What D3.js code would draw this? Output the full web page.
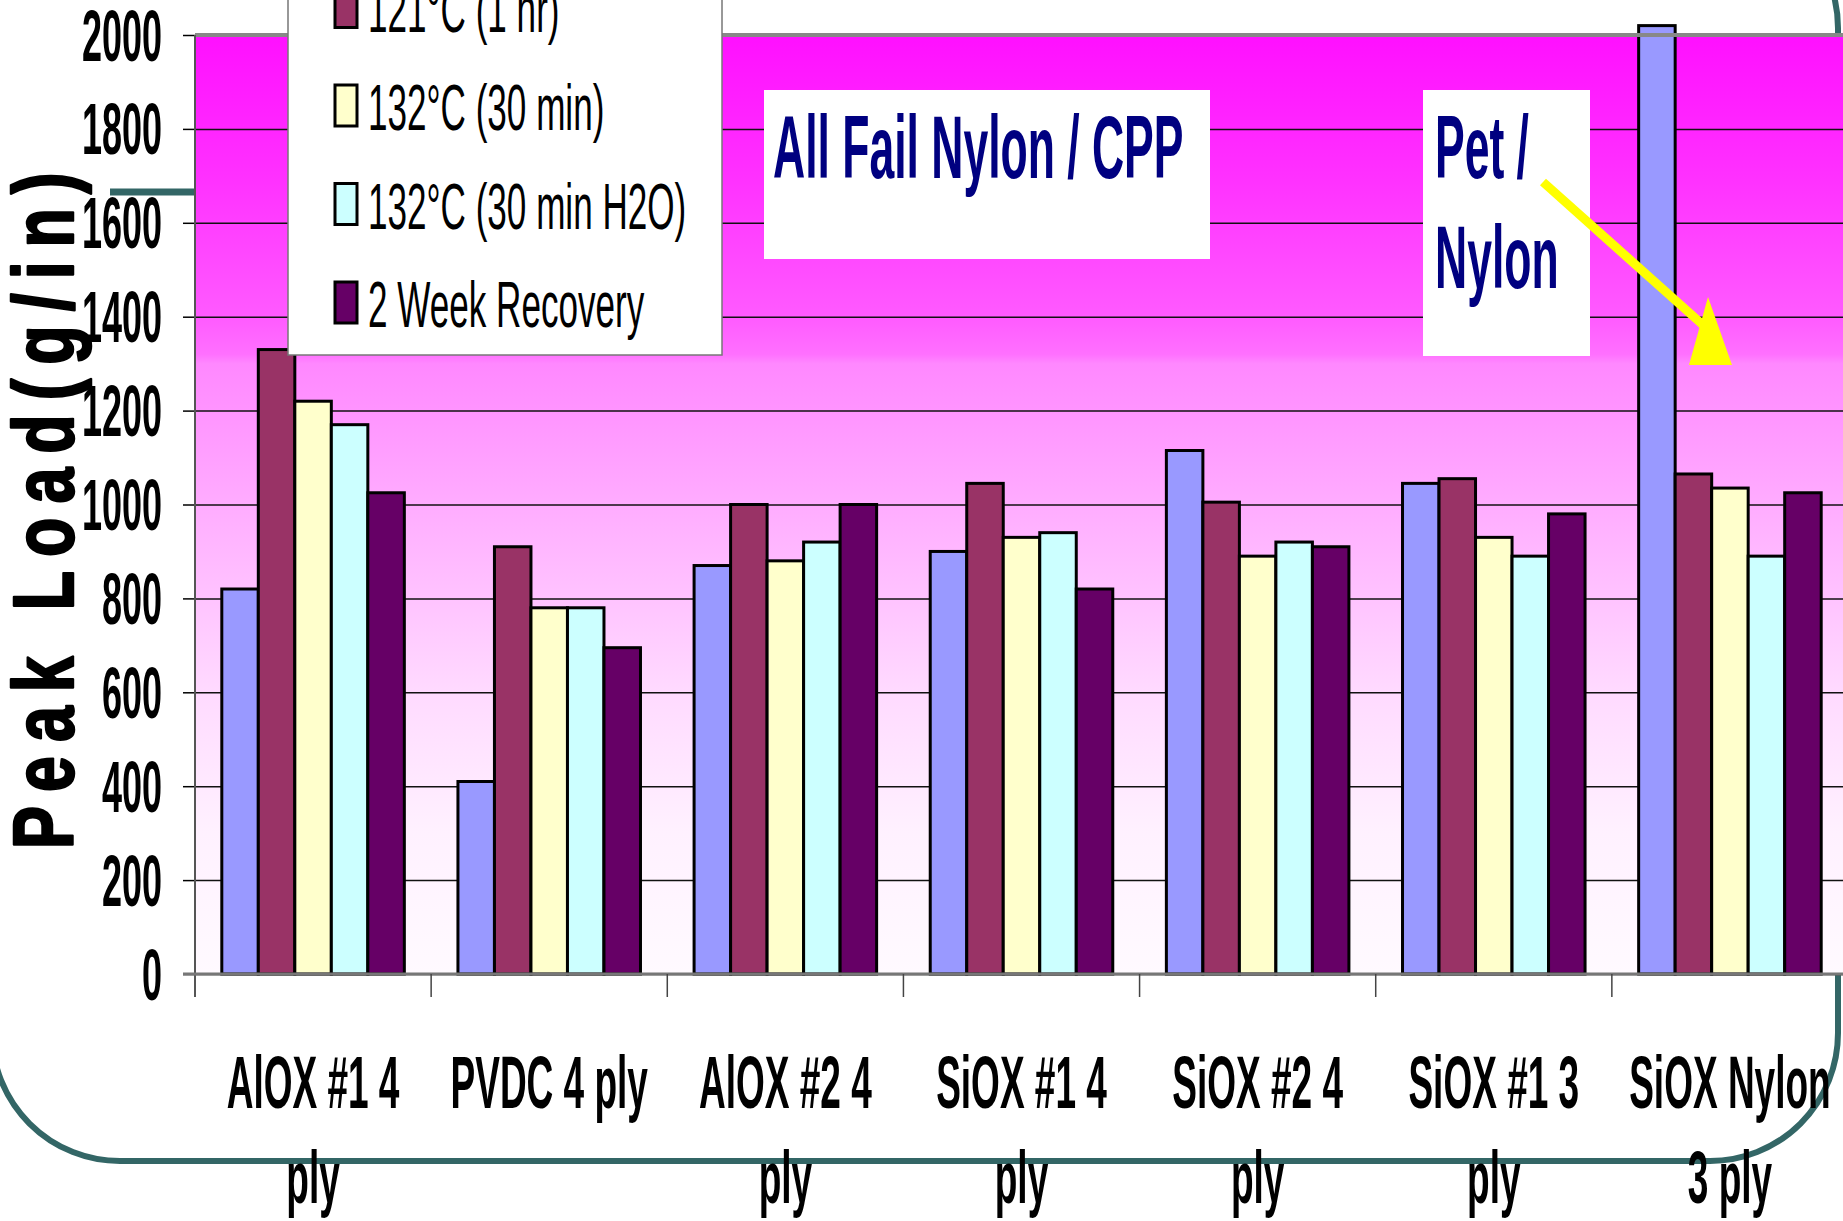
<!DOCTYPE html>
<html>
<head>
<meta charset="utf-8">
<script src="https://cdn.jsdelivr.net/npm/d3@7"></script>
<style>
  html, body { margin: 0; padding: 0; background: #ffffff; }
  svg { display: block; }
  text { font-family: "Liberation Sans", Arial, sans-serif; }
</style>
</head>
<body>
<script>
// Peak load by structure and retort condition
const categories = ["AlOX #1 4 ply", "PVDC 4 ply", "AlOX #2 4 ply", "SiOX #1 4 ply", "SiOX #2 4 ply", "SiOX #1 3 ply", "SiOX Nylon 3 ply"];
const seriesNames = ["Initial", "121°C (1 hr)", "132°C (30 min)", "132°C (30 min H2O)", "2 Week Recovery"];
const initialValues   = [820, 410, 870, 900, 1115, 1045, 2020];
const retort121Values = [1330, 910, 1000, 1045, 1005, 1055, 1065];
const retort132Values = [1220, 780, 880, 930, 890, 930, 1035];
const retort132WaterValues = [1170, 780, 920, 940, 920, 890, 890];
const recoveryValues  = [1025, 695, 1000, 820, 910, 980, 1025];
const seriesColors = ["#9999FF", "#993366", "#FFFFCC", "#CCFFFF", "#660066"];
const yTicks = [0, 200, 400, 600, 800, 1000, 1200, 1400, 1600, 1800, 2000];
const yTitle = "Peak Load(g/in)";
const noteLeft = "All Fail Nylon / CPP";
const noteRight = ["Pet /", "Nylon"];

const seriesValues = [initialValues, retort121Values, retort132Values, retort132WaterValues, recoveryValues];
const rows = [];
categories.forEach((c, i) => seriesNames.forEach((s, j) => rows.push({ cat: c, series: s, value: seriesValues[j][i], color: seriesColors[j] })));

const W = 1843, H = 1221;
const plot = { left: 195, right: 1848, top: 35, bottom: 974 };
const SX = 0.5; // horizontal squeeze for the condensed lettering

const svg = d3.select("body").append("svg").attr("width", W).attr("height", H);
const defs = svg.append("defs");

// slide frame
svg.append("rect").attr("x", -8).attr("y", -100).attr("width", 1846).attr("height", 1261)
  .attr("rx", 128).attr("ry", 128).attr("fill", "none").attr("stroke", "#336666").attr("stroke-width", 6);
svg.append("line").attr("x1", 110).attr("x2", 200).attr("y1", 192).attr("y2", 192)
  .attr("stroke", "#336666").attr("stroke-width", 7);

const x0 = d3.scaleBand().domain(categories).range([plot.left, plot.right]).paddingInner(0).paddingOuter(0);
const gap = x0.bandwidth() * 0.1135;
const x1 = d3.scaleBand().domain(seriesNames).range([gap, x0.bandwidth() - gap]).padding(0);
const y = d3.scaleLinear().domain([0, 2000]).range([plot.bottom, plot.top]);

// plot background gradient
const grad = defs.append("linearGradient").attr("id", "bg").attr("x1", 0).attr("y1", 0).attr("x2", 0).attr("y2", 1);
[[0, "#FF10FF"], [0.15, "#FF30FF"], [0.3, "#FF5AFF"], [0.34, "#FF70FF"], [0.35, "#FF88FF"],
 [0.5, "#FFACFF"], [0.7, "#FFDAFF"], [0.85, "#FFF1FF"], [1, "#FFFAFF"]]
  .forEach(([o, c]) => grad.append("stop").attr("offset", o).attr("stop-color", c));
svg.append("rect").attr("x", plot.left).attr("y", plot.top)
  .attr("width", plot.right - plot.left).attr("height", plot.bottom - plot.top).attr("fill", "url(#bg)");

// gridlines + y axis
const yAxis = d3.axisLeft(y).tickValues(yTicks).tickSize(12).tickFormat(d3.format("d"));
const yg = svg.append("g").attr("transform", `translate(${plot.left},0)`).call(yAxis);
yg.select(".domain").remove();
yg.selectAll(".tick line").attr("stroke", "#000").attr("stroke-width", 1.5);
yg.selectAll(".tick").append("line").attr("class", "grid")
  .attr("x1", 0).attr("x2", plot.right - plot.left).attr("stroke", "#111").attr("stroke-width", 1.5);
yg.selectAll(".tick text")
  .attr("x", null).attr("dy", null)
  .attr("transform", `translate(-33,25) scale(${SX},1)`)
  .attr("text-anchor", "end").attr("fill", "#000")
  .style("font-size", "72px").style("font-weight", "bold").style("font-family", "'Liberation Sans', Arial, sans-serif");

// bars
svg.append("g").selectAll("rect").data(rows).join("rect")
  .attr("x", d => x0(d.cat) + x1(d.series))
  .attr("y", d => y(d.value))
  .attr("width", x1.bandwidth())
  .attr("height", d => y(0) - y(d.value))
  .attr("fill", d => d.color)
  .attr("stroke", "#000").attr("stroke-width", 3);

// plot frame lines
svg.append("line").attr("x1", plot.left).attr("x2", plot.right).attr("y1", plot.top).attr("y2", plot.top)
  .attr("stroke", "#888").attr("stroke-width", 4);
svg.append("line").attr("x1", plot.left).attr("x2", plot.left).attr("y1", plot.top).attr("y2", plot.bottom + 23)
  .attr("stroke", "#555").attr("stroke-width", 2);
svg.append("line").attr("x1", plot.left - 12).attr("x2", plot.right).attr("y1", plot.bottom).attr("y2", plot.bottom)
  .attr("stroke", "#777").attr("stroke-width", 3);

// category boundaries and labels
const xg = svg.append("g");
xg.selectAll("line").data(categories.slice(1)).join("line")
  .attr("x1", d => x0(d)).attr("x2", d => x0(d))
  .attr("y1", plot.bottom).attr("y2", plot.bottom + 23)
  .attr("stroke", "#444").attr("stroke-width", 1.5);

const labelFont = "bold 74px 'Liberation Sans', Arial, sans-serif";
const measureCtx = document.createElement("canvas").getContext("2d");
measureCtx.font = labelFont;
function wrap(label, maxW) {
  const words = label.split(" ");
  const lines = [];
  let cur = "";
  words.forEach(w => {
    const t = cur ? cur + " " + w : w;
    if (measureCtx.measureText(t).width * SX <= maxW || !cur) cur = t;
    else { lines.push(cur); cur = w; }
  });
  lines.push(cur);
  return lines;
}
categories.forEach(c => {
  const cx = x0(c) + x0.bandwidth() / 2;
  wrap(c, 212).forEach((ln, k) => {
    xg.append("text")
      .attr("transform", `translate(${cx},${1108 + k * 95}) scale(${SX},1)`)
      .attr("text-anchor", "middle")
      .style("font-size", "74px").style("font-weight", "bold")
      .text(ln);
  });
});

// y title (heavy, widely tracked)
svg.append("text")
  .attr("transform", `translate(73,849) rotate(-90) scale(0.75,1)`)
  .attr("text-anchor", "start")
  .attr("stroke", "#000").attr("stroke-width", 2.5).attr("stroke-linejoin", "round")
  .style("font-size", "86px").style("font-weight", "bold").style("letter-spacing", "18.7px")
  .text(yTitle);

// legend
const lg = svg.append("g");
lg.append("rect").attr("x", 288).attr("y", -300).attr("width", 434).attr("height", 655)
  .attr("fill", "#fff").attr("stroke", "#777").attr("stroke-width", 1.5);
seriesNames.forEach((s, j) => {
  const base = 130 + (j - 2) * 98.5;
  lg.append("rect").attr("x", 335).attr("y", base - 45).attr("width", 22).attr("height", 41)
    .attr("fill", seriesColors[j]).attr("stroke", "#000").attr("stroke-width", 3);
  lg.append("text").attr("transform", `translate(368,${base}) scale(0.54,1)`)
    .style("font-size", "65px").style("font-weight", "normal").attr("fill", "#000").text(s);
});

// annotations
const ann = svg.append("g");
ann.append("rect").attr("x", 764).attr("y", 90).attr("width", 446).attr("height", 169).attr("fill", "#fff");
ann.append("text").attr("transform", `translate(773,178) scale(${SX},1)`)
  .style("font-size", "89px").style("font-weight", "bold").attr("fill", "#000080").text(noteLeft);
ann.append("rect").attr("x", 1423).attr("y", 90).attr("width", 167).attr("height", 266).attr("fill", "#fff");
noteRight.forEach((t, k) => {
  ann.append("text").attr("transform", `translate(1435,${178 + k * 110}) scale(${SX},1)`)
    .style("font-size", "89px").style("font-weight", "bold").attr("fill", "#000080").text(t);
});

// arrow toward the outlier group
ann.append("line").attr("x1", 1543).attr("y1", 182).attr("x2", 1703).attr("y2", 325)
  .attr("stroke", "#FFFF00").attr("stroke-width", 9);
ann.append("path").attr("d", "M1708,297 L1689,365 L1732,365 Z").attr("fill", "#FFFF00");
</script>
</body>
</html>
